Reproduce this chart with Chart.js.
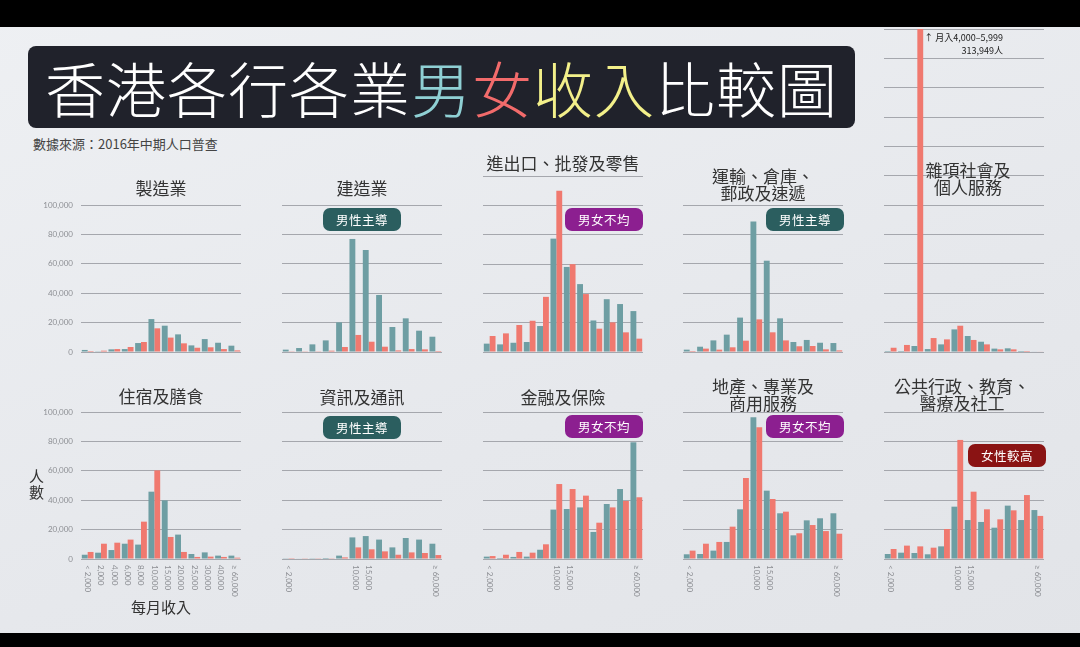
<!DOCTYPE html>
<html>
<head>
<meta charset="utf-8">
<script src="https://cdn.jsdelivr.net/npm/chart.js@4"></script>
<style>
  body { margin: 0; width: 1080px; height: 647px; overflow: hidden; position: relative;
         background: linear-gradient(160deg, #eef0f3 0%, #e6e8ec 60%, #e2e4e8 100%);
         font-family: "Noto Sans CJK TC", sans-serif; color: #333; }
  .blackbar { position: absolute; left: 0; width: 1080px; background: #000; z-index: 10; }
  canvas { position: absolute; z-index: 1; }
  .titlebox { position: absolute; left: 28px; top: 46px; width: 827px; height: 82px; background: #20222b;
              border-radius: 8px; z-index: 3; color: #fff; font-size: 60px; line-height: 82px;
              text-align: center; letter-spacing: 1px; font-weight: 300; }
  .src { position: absolute; left: 33px; top: 134px; font-size: 13px; color: #444; z-index: 3; }
  .ptitle { position: absolute; width: 220px; text-align: center; font-size: 17px; line-height: 17px;
            color: #333; z-index: 3; white-space: pre; }
  .badge { position: absolute; width: 78px; height: 23px; border-radius: 7px; color: #fff; font-size: 12.5px;
           line-height: 23px; text-align: center; z-index: 3; letter-spacing: 0.5px; }
  .note { position: absolute; font-size: 9px; line-height: 13px; color: #222; z-index: 3; text-align: right; }
  .axtitle { position: absolute; font-size: 15px; color: #333; z-index: 3; }
</style>
</head>
<body>
<div class="blackbar" style="top:0;height:27px"></div>
<div class="blackbar" style="top:633px;height:14px"></div>
<div class="titlebox">香港各行各業<span style="color:#8fd0d4">男</span><span style="color:#f26b6b">女</span><span style="color:#f3f08a">收入</span>比較圖</div>
<div class="src">數據來源：2016年中期人口普查</div>
<div class="note" style="left:903px;top:31px;width:100px">↑ 月入4,000–5,999<br>313,949人</div>
<div class="axtitle" style="left:29px;top:468px;line-height:16px;width:16px">人<br>數</div>
<div class="axtitle" style="left:131px;top:596px">每月收入</div>

<script>
// income bins (HK$ per month)
const incomeBins = ['< 2,000', '2,000', '4,000', '6,000', '8,000', '10,000', '15,000',
                    '20,000', '25,000', '30,000', '40,000', '≥ 60,000'];
const yTicks = [0, 20000, 40000, 60000, 80000, 100000];

// persons
const manufacturingMale   = [1400, 500, 1800, 2000, 6100, 22400, 17900, 12000, 4500, 8800, 6300, 4300];
const manufacturingFemale = [700, 900, 2000, 3400, 6800, 16100, 9800, 5900, 2900, 3200, 2000, 1100];

const constructionMale   = [1600, 2700, 5200, 7900, 20200, 76900, 69400, 38800, 17000, 22900, 14500, 10400];
const constructionFemale = [500, 200, 500, 900, 3400, 11600, 7000, 3600, 1100, 2000, 1800, 700];

const tradeMale   = [5700, 5200, 6300, 6800, 17700, 77300, 58000, 46300, 21500, 36000, 32700, 27900];
const tradeFemale = [10900, 12700, 18400, 21300, 37600, 110000, 59900, 39500, 15900, 20200, 13400, 9100];

const transportMale   = [1600, 3600, 7900, 11800, 23400, 88700, 62100, 22900, 6800, 8200, 6300, 6100];
const transportFemale = [700, 2300, 1600, 3200, 7700, 22200, 13400, 7900, 3900, 4100, 1800, 1100];

const socialMale   = [700, 700, 4100, 2000, 5200, 15400, 10900, 7000, 2300, 2500, 700, 300];
const socialFemale = [2900, 4800, 313949, 9500, 8600, 17900, 8200, 5200, 1800, 1800, 700, 300];

const accommodationMale   = [2900, 4300, 6100, 10400, 9800, 45800, 39900, 16600, 3400, 4500, 2300, 2300];
const accommodationFemale = [4800, 10400, 11100, 13200, 25400, 60300, 15000, 4800, 1400, 1600, 1400, 900];

const ictMale   = [200, 300, 500, 700, 2300, 14700, 15600, 13200, 7900, 14300, 13200, 10400];
const ictFemale = [100, 200, 500, 500, 1100, 7900, 6600, 5200, 2900, 4500, 4100, 2700];

const financeMale   = [1600, 700, 1400, 1600, 6300, 33600, 34000, 35100, 18400, 37400, 47600, 79400];
const financeFemale = [2000, 2900, 4800, 4300, 10000, 51000, 47600, 43100, 24700, 35100, 39500, 42000];

const propertyMale   = [3200, 3400, 5700, 11600, 33800, 96400, 46500, 31100, 16100, 26300, 27700, 31100];
const propertyFemale = [5700, 10400, 11600, 22000, 55100, 89600, 40800, 32200, 17500, 23100, 19000, 17200];

const publicMale   = [3400, 4300, 4100, 3200, 8600, 35600, 26500, 25200, 21300, 36300, 26500, 33300];
const publicFemale = [6800, 9100, 8600, 7700, 20400, 81000, 45800, 33800, 27000, 33100, 43500, 29300];

const MALE = '#6e9ea3';
const FEMALE = '#f0796f';
const BADGES = {
  '男性主導': '#2b5e5f',
  '男女不均': '#8c1f90',
  '女性較高': '#8a1313'
};

// layout of the small multiples
const colLeft = [81, 282, 483, 683, 884];
const rowZero = [352, 559];
const PX_PER_K = 1.47;
const AREA_W = 160;

const panels = [
  { title: '製造業', male: manufacturingMale, female: manufacturingFemale, col: 0, row: 0, max: 100000, ty: 188 },
  { title: '建造業', male: constructionMale, female: constructionFemale, col: 1, row: 0, max: 100000, ty: 188, badge: '男性主導', by: 208 },
  { title: '進出口、批發及零售', male: tradeMale, female: tradeFemale, col: 2, row: 0, max: 120000, ty: 163, badge: '男女不均', by: 208, bx: 565 },
  { title: '運輸、倉庫、\n郵政及速遞', male: transportMale, female: transportFemale, col: 3, row: 0, max: 100000, ty: 176, badge: '男性主導', by: 208, bx: 766 },
  { title: '雜項社會及\n個人服務', male: socialMale, female: socialFemale, col: 4, row: 0, max: 220000, ty: 170, tx: 968 },
  { title: '住宿及膳食', male: accommodationMale, female: accommodationFemale, col: 0, row: 1, max: 100000, ty: 396, xl: 'all' },
  { title: '資訊及通訊', male: ictMale, female: ictFemale, col: 1, row: 1, max: 100000, ty: 397, badge: '男性主導', by: 416, xl: 'some' },
  { title: '金融及保險', male: financeMale, female: financeFemale, col: 2, row: 1, max: 100000, ty: 397, badge: '男女不均', by: 415, bx: 565, xl: 'some' },
  { title: '地產、專業及\n商用服務', male: propertyMale, female: propertyFemale, col: 3, row: 1, max: 100000, ty: 386, badge: '男女不均', by: 415, bx: 766, xl: 'some' },
  { title: '公共行政、教育、\n醫療及社工', male: publicMale, female: publicFemale, col: 4, row: 1, max: 100000, ty: 386, tx: 962, badge: '女性較高', by: 444, bx: 968, xl: 'some' }
];

const labelPlugin = {
  id: 'panelLabels',
  afterDraw(chart, args, opts) {
    const ctx = chart.ctx;
    const xs = chart.scales.x, ys = chart.scales.y;
    ctx.save();
    ctx.fillStyle = '#8d8f94';
    ctx.font = '8px Lato, sans-serif';
    if (opts.yLabels) {
      ctx.textAlign = 'right';
      ctx.textBaseline = 'middle';
      yTicks.forEach(v => ctx.fillText(v.toLocaleString('en-US'), chart.chartArea.left - 8, ys.getPixelForValue(v)));
    }
    if (opts.xIdx) {
      opts.xIdx.forEach(i => {
        ctx.save();
        ctx.translate(xs.getPixelForValue(i), chart.chartArea.bottom + 6);
        ctx.rotate(Math.PI / 2);
        ctx.textAlign = 'left';
        ctx.textBaseline = 'middle';
        ctx.fillText(incomeBins[i], 0, 0);
        ctx.restore();
      });
    }
    ctx.restore();
  }
};

const PAD_L = 55, PAD_R = 5, PAD_T = 6;

panels.forEach(p => {
  const areaH = p.max / 1000 * PX_PER_K;
  const zero = rowZero[p.row];
  const padB = p.row === 1 ? 55 : 6;
  const cv = document.createElement('canvas');
  cv.width = AREA_W + PAD_L + PAD_R;
  cv.height = Math.round(areaH + PAD_T + padB);
  cv.style.left = (colLeft[p.col] - PAD_L) + 'px';
  cv.style.top = (zero - areaH - PAD_T) + 'px';
  document.body.appendChild(cv);

  let xIdx = null;
  if (p.xl === 'all') xIdx = incomeBins.map((_, i) => i);
  if (p.xl === 'some') xIdx = [0, 5, 6, 11];

  new Chart(cv.getContext('2d'), {
    type: 'bar',
    data: {
      labels: incomeBins,
      datasets: [
        { label: '男', data: p.male, backgroundColor: MALE, categoryPercentage: 0.88, barPercentage: 1.0 },
        { label: '女', data: p.female, backgroundColor: FEMALE, categoryPercentage: 0.88, barPercentage: 1.0 }
      ]
    },
    options: {
      responsive: false,
      animation: false,
      layout: { padding: { left: PAD_L, right: PAD_R, top: PAD_T, bottom: padB } },
      plugins: {
        legend: { display: false },
        tooltip: { enabled: false },
        panelLabels: { yLabels: p.col === 0, xIdx: xIdx }
      },
      scales: {
        x: { display: false },
        y: {
          min: 0,
          max: p.max,
          ticks: { display: false, stepSize: 20000 },
          grid: { color: '#a5a7ad', drawTicks: false, lineWidth: 1 },
          border: { display: false },
          afterFit(s) { s.width = 0; }
        }
      }
    },
    plugins: [labelPlugin]
  });

  // panel title
  const t = document.createElement('div');
  t.className = 'ptitle';
  t.textContent = p.title;
  const cx = p.tx || (colLeft[p.col] + AREA_W / 2);
  t.style.left = (cx - 110) + 'px';
  t.style.top = (p.ty - 9) + 'px';
  document.body.appendChild(t);

  if (p.badge) {
    const b = document.createElement('div');
    b.className = 'badge';
    b.textContent = p.badge;
    b.style.background = BADGES[p.badge];
    b.style.left = (p.bx || (colLeft[p.col] + AREA_W / 2 - 39)) + 'px';
    b.style.top = p.by + 'px';
    document.body.appendChild(b);
  }
});
</script>
</body>
</html>
